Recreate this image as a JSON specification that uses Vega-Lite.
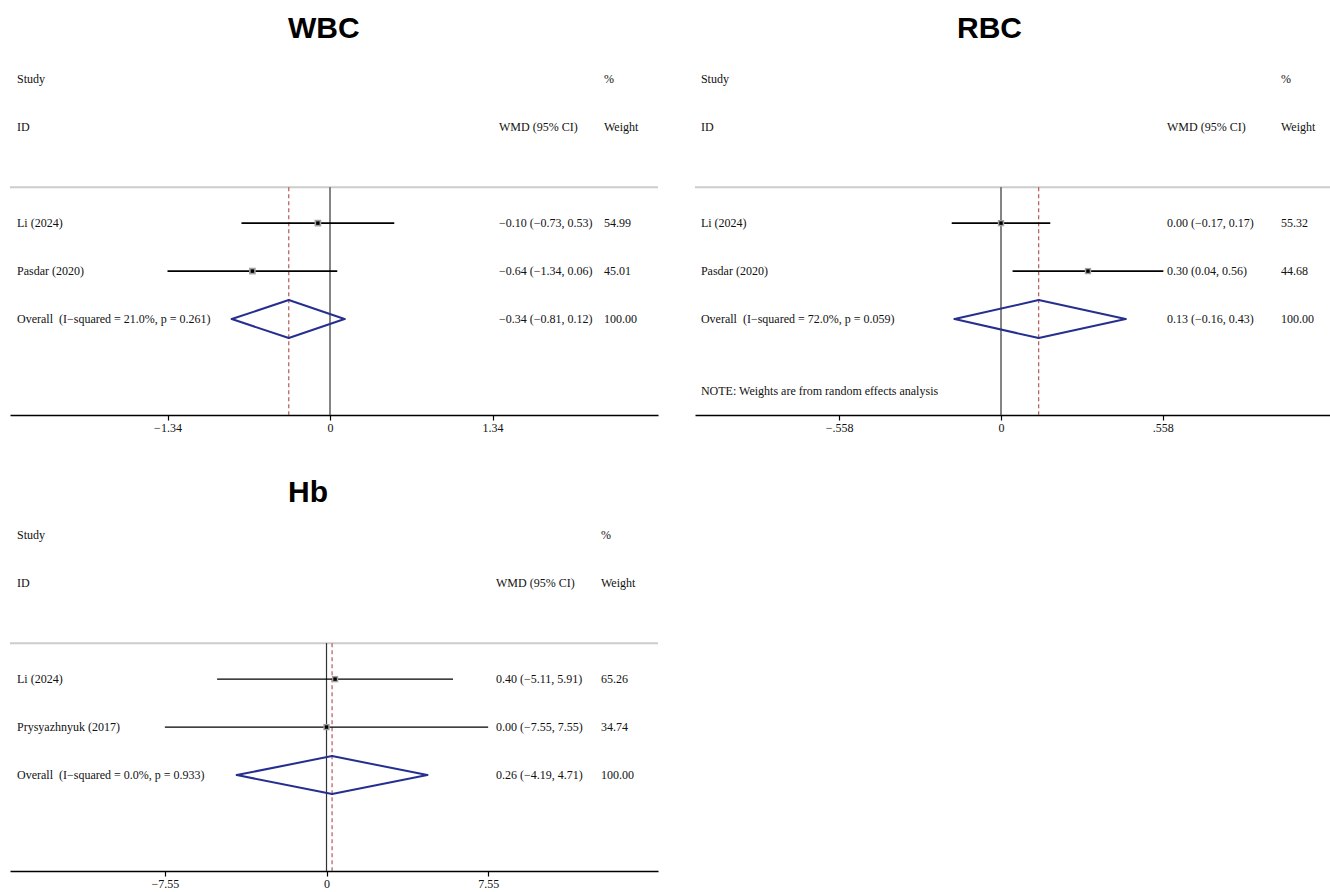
{
  "$schema": "https://vega.github.io/schema/vega-lite/v6.json",
  "background": "white",
  "padding": {"left": 9, "top": 14, "right": 0, "bottom": 0},
  "bounds": "flush",
  "align": "each",
  "columns": 2,
  "spacing": {"row": 101, "column": 37},
  "config": {
    "view": {"stroke": null},
    "text": {"font": "Liberation Serif", "fontSize": 12, "color": "#111111", "baseline": "middle", "align": "left"},
    "axis": {"grid": false, "domainColor": "#000000", "domainWidth": 1.3, "tickColor": "#000000", "tickWidth": 1.2, "tickSize": 5, "labelFont": "Liberation Serif", "labelFontSize": 12, "labelColor": "#111111", "labelPadding": 2, "labelFlush": false},
    "title": {"font": "Liberation Sans", "fontSize": 30, "fontWeight": "bold", "color": "#000000", "anchor": "start", "baseline": "alphabetic"}
  },
  "concat": [
    {
      "width": 648, "height": 355,
      "title": {"text": "WBC", "dx": 279, "offset": 16},
      "data": {"values": [
        {"study": "Li (2024)", "est": -0.10, "lo": -0.73, "hi": 0.53, "ci": "−0.10 (−0.73, 0.53)", "weight": "54.99", "row": 3, "kind": "study"},
        {"study": "Pasdar (2020)", "est": -0.64, "lo": -1.34, "hi": 0.06, "ci": "−0.64 (−1.34, 0.06)", "weight": "45.01", "row": 4, "kind": "study"},
        {"study": "Overall\u00a0 (I−squared = 21.0%, p = 0.261)", "est": -0.34, "lo": -0.81, "hi": 0.12, "ci": "−0.34 (−0.81, 0.12)", "weight": "100.00", "row": 5, "kind": "overall"}
      ]},
      "layer": [
        {"data": {"values": [{}]}, "mark": {"type": "rule", "color": "#cccccc", "strokeWidth": 2}, "encoding": {"y": {"datum": 2.25, "type": "quantitative", "axis": null}}},
        {"data": {"values": [{}]}, "mark": {"type": "rule", "color": "#333333", "strokeWidth": 1.2}, "encoding": {"x": {"datum": 0, "type": "quantitative", "title": null}, "y": {"datum": 2.25, "type": "quantitative", "axis": null}, "y2": {"datum": 7}}},
        {"transform": [{"filter": "datum.kind == 'overall'"}], "mark": {"type": "rule", "color": "#b04a4a", "strokeWidth": 1.1, "strokeDash": [4, 3]}, "encoding": {"x": {"field": "est", "type": "quantitative", "title": null}, "y": {"datum": 2.25, "type": "quantitative", "axis": null}, "y2": {"datum": 7}}},
        {"transform": [{"filter": "datum.kind == 'study'"}], "mark": {"type": "rule", "color": "#000000", "strokeWidth": 1.8},
         "encoding": {
           "x": {"field": "lo", "type": "quantitative", "scale": {"domain": [-2.6388, 2.7047], "nice": false, "zero": false}, "axis": {"values": [-1.34, 0, 1.34], "format": ".3~f", "title": null}},
           "x2": {"field": "hi"},
           "y": {"field": "row", "type": "quantitative", "scale": {"domain": [-0.4, 7], "reverse": true, "nice": false, "zero": false}, "axis": null}}},
        {"transform": [{"filter": "datum.kind == 'study'"}], "mark": {"type": "square", "color": "#a0a0a0", "size": 45, "opacity": 1}, "encoding": {"x": {"field": "est", "type": "quantitative", "title": null}, "y": {"field": "row", "type": "quantitative", "axis": null}}},
        {"transform": [{"filter": "datum.kind == 'study'"}], "mark": {"type": "square", "color": "#000000", "size": 12, "opacity": 1}, "encoding": {"x": {"field": "est", "type": "quantitative", "title": null}, "y": {"field": "row", "type": "quantitative", "axis": null}}},
        {"transform": [{"filter": "datum.kind == 'overall'"}], "mark": {"type": "rule", "color": "#262f8f", "strokeWidth": 2, "strokeCap": "round", "y2Offset": -19}, "encoding": {"x": {"field": "lo", "type": "quantitative", "title": null}, "x2": {"field": "est"}, "y": {"field": "row", "type": "quantitative", "axis": null}, "y2": {"field": "row"}}},
        {"transform": [{"filter": "datum.kind == 'overall'"}], "mark": {"type": "rule", "color": "#262f8f", "strokeWidth": 2, "strokeCap": "round", "y2Offset": 19}, "encoding": {"x": {"field": "lo", "type": "quantitative", "title": null}, "x2": {"field": "est"}, "y": {"field": "row", "type": "quantitative", "axis": null}, "y2": {"field": "row"}}},
        {"transform": [{"filter": "datum.kind == 'overall'"}], "mark": {"type": "rule", "color": "#262f8f", "strokeWidth": 2, "strokeCap": "round", "yOffset": -19}, "encoding": {"x": {"field": "est", "type": "quantitative", "title": null}, "x2": {"field": "hi"}, "y": {"field": "row", "type": "quantitative", "axis": null}, "y2": {"field": "row"}}},
        {"transform": [{"filter": "datum.kind == 'overall'"}], "mark": {"type": "rule", "color": "#262f8f", "strokeWidth": 2, "strokeCap": "round", "yOffset": 19}, "encoding": {"x": {"field": "est", "type": "quantitative", "title": null}, "x2": {"field": "hi"}, "y": {"field": "row", "type": "quantitative", "axis": null}, "y2": {"field": "row"}}},
        {"data": {"values": [{"h": "Study", "line": 0}, {"h": "ID", "line": 1}]}, "mark": {"type": "text"}, "encoding": {"x": {"datum": -2.581, "type": "quantitative", "title": null}, "y": {"field": "line", "type": "quantitative", "axis": null}, "text": {"field": "h"}}},
        {"data": {"values": [{"h": "WMD (95% CI)", "line": 1}]}, "mark": {"type": "text"}, "encoding": {"x": {"datum": 1.3936, "type": "quantitative", "title": null}, "y": {"field": "line", "type": "quantitative", "axis": null}, "text": {"field": "h"}}},
        {"data": {"values": [{"h": "%", "line": 0}, {"h": "Weight", "line": 1}]}, "mark": {"type": "text"}, "encoding": {"x": {"datum": 2.2594, "type": "quantitative", "title": null}, "y": {"field": "line", "type": "quantitative", "axis": null}, "text": {"field": "h"}}},
        {"mark": {"type": "text"}, "encoding": {"x": {"datum": -2.581, "type": "quantitative", "title": null}, "y": {"field": "row", "type": "quantitative", "axis": null}, "text": {"field": "study"}}},
        {"mark": {"type": "text"}, "encoding": {"x": {"datum": 1.3936, "type": "quantitative", "title": null}, "y": {"field": "row", "type": "quantitative", "axis": null}, "text": {"field": "ci"}}},
        {"mark": {"type": "text"}, "encoding": {"x": {"datum": 2.2594, "type": "quantitative", "title": null}, "y": {"field": "row", "type": "quantitative", "axis": null}, "text": {"field": "weight"}}}
      ]
    },
    {
      "width": 636, "height": 355,
      "title": {"text": "RBC", "dx": 263, "offset": 16},
      "data": {"values": [
        {"study": "Li (2024)", "est": 0.00, "lo": -0.17, "hi": 0.17, "ci": "0.00 (−0.17, 0.17)", "weight": "55.32", "row": 3, "kind": "study"},
        {"study": "Pasdar (2020)", "est": 0.30, "lo": 0.04, "hi": 0.56, "ci": "0.30 (0.04, 0.56)", "weight": "44.68", "row": 4, "kind": "study"},
        {"study": "Overall\u00a0 (I−squared = 72.0%, p = 0.059)", "est": 0.13, "lo": -0.16, "hi": 0.43, "ci": "0.13 (−0.16, 0.43)", "weight": "100.00", "row": 5, "kind": "overall"}
      ]},
      "layer": [
        {"data": {"values": [{}]}, "mark": {"type": "rule", "color": "#cccccc", "strokeWidth": 2}, "encoding": {"y": {"datum": 2.25, "type": "quantitative", "axis": null}}},
        {"data": {"values": [{}]}, "mark": {"type": "rule", "color": "#333333", "strokeWidth": 1.2}, "encoding": {"x": {"datum": 0, "type": "quantitative", "title": null}, "y": {"datum": 2.25, "type": "quantitative", "axis": null}, "y2": {"datum": 7}}},
        {"transform": [{"filter": "datum.kind == 'overall'"}], "mark": {"type": "rule", "color": "#b04a4a", "strokeWidth": 1.1, "strokeDash": [4, 3]}, "encoding": {"x": {"field": "est", "type": "quantitative", "title": null}, "y": {"datum": 2.25, "type": "quantitative", "axis": null}, "y2": {"datum": 7}}},
        {"transform": [{"filter": "datum.kind == 'study'"}], "mark": {"type": "rule", "color": "#000000", "strokeWidth": 1.8},
         "encoding": {
           "x": {"field": "lo", "type": "quantitative", "scale": {"domain": [-1.0555, 1.1383], "nice": false, "zero": false}, "axis": {"values": [-0.558, 0, 0.558], "labelExpr": "replace(format(datum.value, '.3~f'), '0.', '.')", "title": null}},
           "x2": {"field": "hi"},
           "y": {"field": "row", "type": "quantitative", "scale": {"domain": [-0.4, 7], "reverse": true, "nice": false, "zero": false}, "axis": null}}},
        {"transform": [{"filter": "datum.kind == 'study'"}], "mark": {"type": "square", "color": "#a0a0a0", "size": 40, "opacity": 1}, "encoding": {"x": {"field": "est", "type": "quantitative", "title": null}, "y": {"field": "row", "type": "quantitative", "axis": null}}},
        {"transform": [{"filter": "datum.kind == 'study'"}], "mark": {"type": "square", "color": "#000000", "size": 12, "opacity": 1}, "encoding": {"x": {"field": "est", "type": "quantitative", "title": null}, "y": {"field": "row", "type": "quantitative", "axis": null}}},
        {"transform": [{"filter": "datum.kind == 'overall'"}], "mark": {"type": "rule", "color": "#262f8f", "strokeWidth": 2, "strokeCap": "round", "y2Offset": -19}, "encoding": {"x": {"field": "lo", "type": "quantitative", "title": null}, "x2": {"field": "est"}, "y": {"field": "row", "type": "quantitative", "axis": null}, "y2": {"field": "row"}}},
        {"transform": [{"filter": "datum.kind == 'overall'"}], "mark": {"type": "rule", "color": "#262f8f", "strokeWidth": 2, "strokeCap": "round", "y2Offset": 19}, "encoding": {"x": {"field": "lo", "type": "quantitative", "title": null}, "x2": {"field": "est"}, "y": {"field": "row", "type": "quantitative", "axis": null}, "y2": {"field": "row"}}},
        {"transform": [{"filter": "datum.kind == 'overall'"}], "mark": {"type": "rule", "color": "#262f8f", "strokeWidth": 2, "strokeCap": "round", "yOffset": -19}, "encoding": {"x": {"field": "est", "type": "quantitative", "title": null}, "x2": {"field": "hi"}, "y": {"field": "row", "type": "quantitative", "axis": null}, "y2": {"field": "row"}}},
        {"transform": [{"filter": "datum.kind == 'overall'"}], "mark": {"type": "rule", "color": "#262f8f", "strokeWidth": 2, "strokeCap": "round", "yOffset": 19}, "encoding": {"x": {"field": "est", "type": "quantitative", "title": null}, "x2": {"field": "hi"}, "y": {"field": "row", "type": "quantitative", "axis": null}, "y2": {"field": "row"}}},
        {"data": {"values": [{"h": "Study", "line": 0}, {"h": "ID", "line": 1}, {"h": "NOTE: Weights are from random effects analysis", "line": 6.5}]}, "mark": {"type": "text"}, "encoding": {"x": {"datum": -1.035, "type": "quantitative", "title": null}, "y": {"field": "line", "type": "quantitative", "axis": null}, "text": {"field": "h"}}},
        {"data": {"values": [{"h": "WMD (95% CI)", "line": 1}]}, "mark": {"type": "text"}, "encoding": {"x": {"datum": 0.5726, "type": "quantitative", "title": null}, "y": {"field": "line", "type": "quantitative", "axis": null}, "text": {"field": "h"}}},
        {"data": {"values": [{"h": "%", "line": 0}, {"h": "Weight", "line": 1}]}, "mark": {"type": "text"}, "encoding": {"x": {"datum": 0.9658, "type": "quantitative", "title": null}, "y": {"field": "line", "type": "quantitative", "axis": null}, "text": {"field": "h"}}},
        {"mark": {"type": "text"}, "encoding": {"x": {"datum": -1.035, "type": "quantitative", "title": null}, "y": {"field": "row", "type": "quantitative", "axis": null}, "text": {"field": "study"}}},
        {"mark": {"type": "text"}, "encoding": {"x": {"datum": 0.5726, "type": "quantitative", "title": null}, "y": {"field": "row", "type": "quantitative", "axis": null}, "text": {"field": "ci"}}},
        {"mark": {"type": "text"}, "encoding": {"x": {"datum": 0.9658, "type": "quantitative", "title": null}, "y": {"field": "row", "type": "quantitative", "axis": null}, "text": {"field": "weight"}}}
      ]
    },
    {
      "width": 648, "height": 355,
      "title": {"text": "Hb", "dx": 279, "offset": 8},
      "data": {"values": [
        {"study": "Li (2024)", "est": 0.40, "lo": -5.11, "hi": 5.91, "ci": "0.40 (−5.11, 5.91)", "weight": "65.26", "row": 3, "kind": "study"},
        {"study": "Prysyazhnyuk (2017)", "est": 0.00, "lo": -7.55, "hi": 7.55, "ci": "0.00 (−7.55, 7.55)", "weight": "34.74", "row": 4, "kind": "study"},
        {"study": "Overall\u00a0 (I−squared = 0.0%, p = 0.933)", "est": 0.26, "lo": -4.19, "hi": 4.71, "ci": "0.26 (−4.19, 4.71)", "weight": "100.00", "row": 5, "kind": "overall"}
      ]},
      "layer": [
        {"data": {"values": [{}]}, "mark": {"type": "rule", "color": "#cccccc", "strokeWidth": 2}, "encoding": {"y": {"datum": 2.25, "type": "quantitative", "axis": null}}},
        {"data": {"values": [{}]}, "mark": {"type": "rule", "color": "#333333", "strokeWidth": 1.2}, "encoding": {"x": {"datum": 0, "type": "quantitative", "title": null}, "y": {"datum": 2.25, "type": "quantitative", "axis": null}, "y2": {"datum": 7}}},
        {"transform": [{"filter": "datum.kind == 'overall'"}], "mark": {"type": "rule", "color": "#b04a4a", "strokeWidth": 1.1, "strokeDash": [4, 3]}, "encoding": {"x": {"field": "est", "type": "quantitative", "title": null}, "y": {"datum": 2.25, "type": "quantitative", "axis": null}, "y2": {"datum": 7}}},
        {"transform": [{"filter": "datum.kind == 'study'"}], "mark": {"type": "rule", "color": "#000000", "strokeWidth": 1.4},
         "encoding": {
           "x": {"field": "lo", "type": "quantitative", "scale": {"domain": [-14.783, 15.483], "nice": false, "zero": false}, "axis": {"values": [-7.55, 0, 7.55], "format": ".3~f", "title": null}},
           "x2": {"field": "hi"},
           "y": {"field": "row", "type": "quantitative", "scale": {"domain": [-0.4, 7], "reverse": true, "nice": false, "zero": false}, "axis": null}}},
        {"transform": [{"filter": "datum.kind == 'study'"}], "mark": {"type": "square", "color": "#a0a0a0", "size": 40, "opacity": 1}, "encoding": {"x": {"field": "est", "type": "quantitative", "title": null}, "y": {"field": "row", "type": "quantitative", "axis": null}}},
        {"transform": [{"filter": "datum.kind == 'study'"}], "mark": {"type": "square", "color": "#000000", "size": 12, "opacity": 1}, "encoding": {"x": {"field": "est", "type": "quantitative", "title": null}, "y": {"field": "row", "type": "quantitative", "axis": null}}},
        {"transform": [{"filter": "datum.kind == 'overall'"}], "mark": {"type": "rule", "color": "#262f8f", "strokeWidth": 2, "strokeCap": "round", "y2Offset": -19}, "encoding": {"x": {"field": "lo", "type": "quantitative", "title": null}, "x2": {"field": "est"}, "y": {"field": "row", "type": "quantitative", "axis": null}, "y2": {"field": "row"}}},
        {"transform": [{"filter": "datum.kind == 'overall'"}], "mark": {"type": "rule", "color": "#262f8f", "strokeWidth": 2, "strokeCap": "round", "y2Offset": 19}, "encoding": {"x": {"field": "lo", "type": "quantitative", "title": null}, "x2": {"field": "est"}, "y": {"field": "row", "type": "quantitative", "axis": null}, "y2": {"field": "row"}}},
        {"transform": [{"filter": "datum.kind == 'overall'"}], "mark": {"type": "rule", "color": "#262f8f", "strokeWidth": 2, "strokeCap": "round", "yOffset": -19}, "encoding": {"x": {"field": "est", "type": "quantitative", "title": null}, "x2": {"field": "hi"}, "y": {"field": "row", "type": "quantitative", "axis": null}, "y2": {"field": "row"}}},
        {"transform": [{"filter": "datum.kind == 'overall'"}], "mark": {"type": "rule", "color": "#262f8f", "strokeWidth": 2, "strokeCap": "round", "yOffset": 19}, "encoding": {"x": {"field": "est", "type": "quantitative", "title": null}, "x2": {"field": "hi"}, "y": {"field": "row", "type": "quantitative", "axis": null}, "y2": {"field": "row"}}},
        {"data": {"values": [{"h": "Study", "line": 0}, {"h": "ID", "line": 1}]}, "mark": {"type": "text"}, "encoding": {"x": {"datum": -14.456, "type": "quantitative", "title": null}, "y": {"field": "line", "type": "quantitative", "axis": null}, "text": {"field": "h"}}},
        {"data": {"values": [{"h": "WMD (95% CI)", "line": 1}]}, "mark": {"type": "text"}, "encoding": {"x": {"datum": 7.917, "type": "quantitative", "title": null}, "y": {"field": "line", "type": "quantitative", "axis": null}, "text": {"field": "h"}}},
        {"data": {"values": [{"h": "%", "line": 0}, {"h": "Weight", "line": 1}]}, "mark": {"type": "text"}, "encoding": {"x": {"datum": 12.821, "type": "quantitative", "title": null}, "y": {"field": "line", "type": "quantitative", "axis": null}, "text": {"field": "h"}}},
        {"mark": {"type": "text"}, "encoding": {"x": {"datum": -14.456, "type": "quantitative", "title": null}, "y": {"field": "row", "type": "quantitative", "axis": null}, "text": {"field": "study"}}},
        {"mark": {"type": "text"}, "encoding": {"x": {"datum": 7.917, "type": "quantitative", "title": null}, "y": {"field": "row", "type": "quantitative", "axis": null}, "text": {"field": "ci"}}},
        {"mark": {"type": "text"}, "encoding": {"x": {"datum": 12.821, "type": "quantitative", "title": null}, "y": {"field": "row", "type": "quantitative", "axis": null}, "text": {"field": "weight"}}}
      ]
    }
  ]
}
